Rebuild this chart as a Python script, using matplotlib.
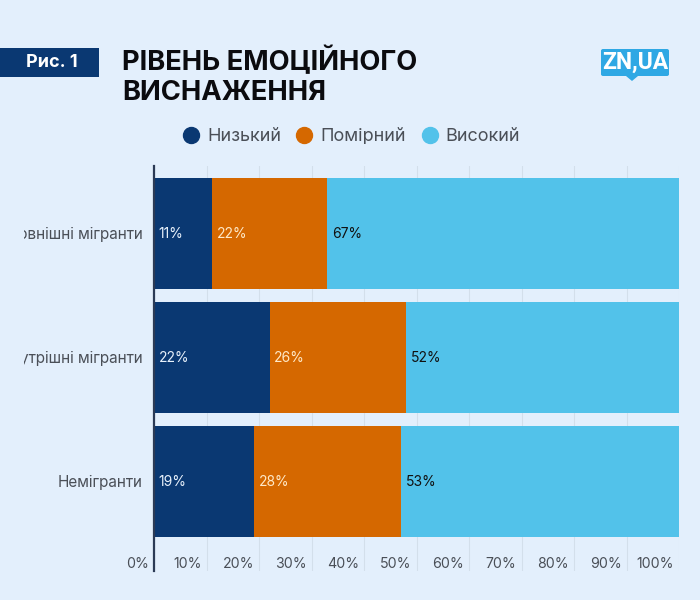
import matplotlib
matplotlib.use("Agg")
import matplotlib.pyplot as plt
from matplotlib.lines import Line2D
from matplotlib.patches import Rectangle, FancyBboxPatch, Polygon
from matplotlib.transforms import Bbox, ScaledTranslation

plt.rcParams['font.family'] = ['Inter', 'DejaVu Sans']

groups = ["Зовнішні мігранти", "Внутрішні мігранти", "Немігранти"]
levels = ["Низький", "Помірний", "Високий"]
low = [11, 22, 19]
mid = [22, 26, 28]
high = [67, 52, 53]
xticks = [0, 10, 20, 30, 40, 50, 60, 70, 80, 90, 100]

colors = ["#0A3872", "#D56800", "#52C2EA"]
label_colors = ["#E8F1FB", "#FFE9C8", "#111111"]
bg = "#E3EFFC"
W, H = 700, 600


def px_rect(x0, y0, x1, y1):
    # pixel box from top left -> figure fraction
    return [x0 / W, 1 - y1 / H, (x1 - x0) / W, (y1 - y0) / H]


fig = plt.figure(figsize=(7, 6), dpi=100, facecolor=bg)
ax = fig.add_axes(px_rect(154, 166, 679, 571))
ax.set_facecolor("none")

left = [0, 0, 0]
for i, vals in enumerate([low, mid, high]):
    bars = ax.barh(range(3), vals, left=left, height=0.895, color=colors[i], zorder=3)
    for bar, v in zip(bars, vals):
        ax.annotate(f"{v}%", (bar.get_x(), bar.get_y() + bar.get_height() / 2),
                    xytext=(3.5, -0.5), textcoords="offset points", va="center", ha="left",
                    fontsize=10, color=label_colors[i], zorder=4)
    left = [a + b for a, b in zip(left, vals)]

ax.set_xlim(0, 100)
ax.set_ylim(2.722, -0.544)
for s in ["top", "right", "bottom"]:
    ax.spines[s].set_visible(False)
ax.spines["left"].set_color("#2B3A55")
ax.spines["left"].set_linewidth(1.6)
ax.spines["left"].set_zorder(5)
ax.grid(axis="x", color="#D3DFEB", linewidth=0.8, zorder=0)

ax.set_xticks(xticks)
ax.set_xticklabels([f"{t}%" for t in xticks], fontsize=10.2, color="#4A4F57", ha="right")
ax.tick_params(axis="x", length=0, pad=-10)
shift = ScaledTranslation(-3.6 / 72, 0, fig.dpi_scale_trans)
for lab in ax.get_xticklabels():
    lab.set_transform(lab.get_transform() + shift)

ax.set_yticks(range(3))
ax.set_yticklabels(groups, fontsize=11, color="#4A4F57")
ax.tick_params(axis="y", length=0, pad=8)
# long group names are cut off on the left in the original
clip = Bbox([[24, 0], [154, 600]])
for lab in ax.get_yticklabels():
    lab.set_clip_on(True)
    lab.set_clip_box(clip)

# header
fig.add_artist(Rectangle((0, 1 - 77 / H), 99 / W, 29 / H, transform=fig.transFigure,
                         color=colors[0], lw=0))
fig.text(52 / W, 1 - 62.5 / H, "Рис. 1", fontsize=13, fontweight="bold", color="white",
         ha="center", va="center")
fig.text(122 / W, 1 - 61 / H, "РІВЕНЬ ЕМОЦІЙНОГО", fontsize=19.7, fontweight="bold",
         color="#0B0B0F", va="center")
fig.text(122 / W, 1 - 93 / H, "ВИСНАЖЕННЯ", fontsize=19.7, fontweight="bold",
         color="#0B0B0F", va="center")

# logo
fig.add_artist(FancyBboxPatch((601 / W, 1 - 76 / H), 68 / W, 27 / H, transform=fig.transFigure,
                              boxstyle="round,pad=0,rounding_size=0.003", color="#2FA8E4", lw=0))
fig.add_artist(Polygon([(626 / W, 1 - 76 / H), (638 / W, 1 - 76 / H), (632 / W, 1 - 81 / H)],
                       transform=fig.transFigure, color="#2FA8E4", lw=0))
fig.text(635 / W, 1 - 62.5 / H, "ZN,UA", fontsize=16.5, fontweight="bold", color="white",
         ha="center", va="center", family=["Roboto", "DejaVu Sans"])

# legend
handles = [Line2D([], [], marker="o", linestyle="none", markersize=11.5, color=c) for c in colors]
fig.legend(handles, levels, ncol=3, frameon=False, fontsize=13, labelcolor="#4A4F57",
           loc="center", bbox_to_anchor=(351 / W, 1 - 137 / H), handlelength=1,
           handletextpad=0.39, columnspacing=0.8)

fig.savefig("out.png", dpi=100, facecolor=bg)
